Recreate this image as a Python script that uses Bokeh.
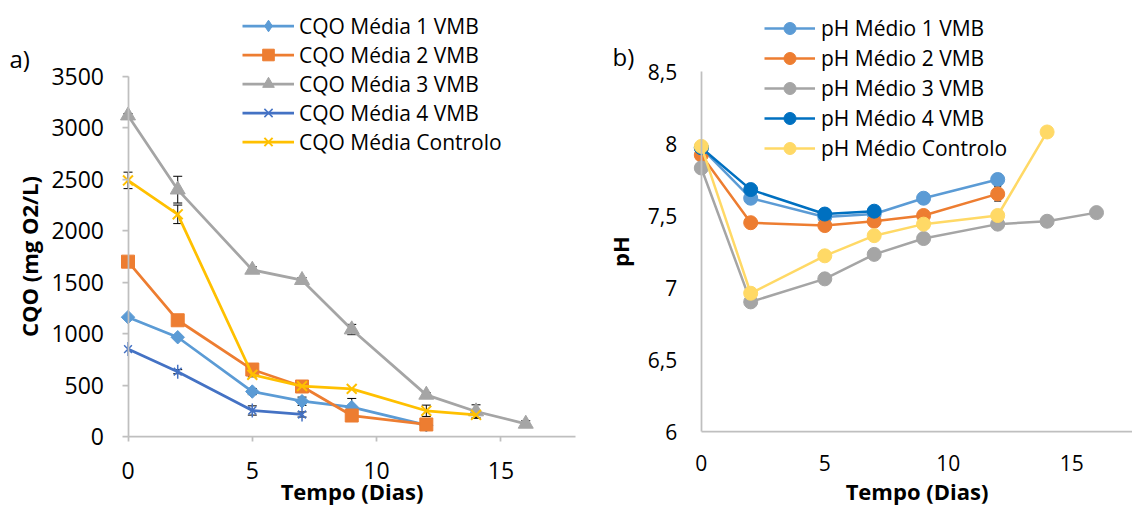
from math import pi
from bokeh.plotting import figure
from bokeh.models import (Range1d, FixedTicker, Legend, LegendItem, Whisker, TeeHead,
                          ColumnDataSource, Label, CustomJSTickFormatter)
from bokeh.layouts import row
from bokeh.embed import file_html
from bokeh.resources import INLINE

# ---------------- data ----------------
days = [0, 2, 5, 7, 9, 12, 14, 16]

cqo_names = ["CQO Média 1 VMB", "CQO Média 2 VMB", "CQO Média 3 VMB",
             "CQO Média 4 VMB", "CQO Média Controlo"]
cqo1 = [1160, 965, 437, 343, 285, 110]
cqo2 = [1700, 1130, 651, 486, 204, 117]
cqo3 = [3120, 2400, 1620, 1520, 1040, 405, 243, 123]
cqo4 = [850, 630, 253, 214]
cqo_c = [2490, 2160, 600, 490, 463, 250, 210]
cqo1_err = [0, 0, 30, 40, 85, 0]
cqo2_err = [0, 0, 0, 35, 0, 0]
cqo3_err = [20, 130, 30, 25, 50, 20, 65, 30]
cqo4_err = [0, 20, 45, 25]
cqo_c_err = [80, 90, 20, 20, 0, 55, 30]

ph_names = ["pH Médio 1 VMB", "pH Médio 2 VMB", "pH Médio 3 VMB",
            "pH Médio 4 VMB", "pH Médio Controlo"]
ph1 = [7.97, 7.62, 7.49, 7.51, 7.62, 7.75]
ph2 = [7.92, 7.45, 7.43, 7.46, 7.50, 7.65]
ph3 = [7.83, 6.90, 7.06, 7.23, 7.34, 7.44, 7.46, 7.52]
ph4 = [7.97, 7.68, 7.51, 7.53]
ph_c = [7.98, 6.96, 7.22, 7.36, 7.44, 7.50, 8.08]
ph1_err = [0, 0, 0, 0, 0, 0.04]
ph2_err = [0, 0, 0, 0, 0, 0.05]
ph3_err = [0, 0, 0, 0, 0, 0.02, 0, 0]
ph4_err = [0, 0, 0, 0]
ph_c_err = [0, 0, 0.02, 0, 0, 0, 0]

x_ticks = [0, 5, 10, 15]
cqo_ticks = [0, 500, 1000, 1500, 2000, 2500, 3000, 3500]
ph_ticks = [6, 6.5, 7, 7.5, 8, 8.5]

FONT = "Open Sans"
AXIS_COLOR = "#BFBFBF"
H = 506


def make_fig(width, xr, yr):
    p = figure(width=width, height=H, x_range=Range1d(*xr), y_range=Range1d(*yr),
               output_backend="svg", toolbar_location=None, title=None,
               min_border_left=0, min_border_right=0, min_border_top=0,
               min_border_bottom=0)
    p.outline_line_color = None
    p.grid.visible = False
    p.background_fill_color = "white"
    p.border_fill_color = "white"
    for ax in (p.xaxis[0], p.yaxis[0]):
        ax.axis_line_color = AXIS_COLOR
        ax.axis_line_width = 1.75
        ax.major_tick_line_color = AXIS_COLOR
        ax.major_tick_line_width = 1.75
        ax.major_tick_in = 0
        ax.minor_tick_in = 0
        ax.minor_tick_out = 0
        ax.major_label_text_font = FONT
        ax.major_label_text_color = "black"
        ax.axis_label_text_font = FONT
        ax.axis_label_text_font_style = "bold"
        ax.axis_label_text_font_size = "22px"
        ax.axis_label_text_color = "black"
    return p


def add_err(p, xs, ys, errs, size=9):
    bx = [x for x, e in zip(xs, errs) if e > 0]
    up = [y + e for y, e in zip(ys, errs) if e > 0]
    lo = [y - e for y, e in zip(ys, errs) if e > 0]
    if not bx:
        return
    src = ColumnDataSource(dict(base=bx, upper=up, lower=lo))
    w = Whisker(source=src, base="base", upper="upper", lower="lower",
                line_color="black", line_width=1,
                upper_head=TeeHead(size=size, line_color="black", line_width=1),
                lower_head=TeeHead(size=size, line_color="black", line_width=1))
    p.add_layout(w)


# ---------------- left panel: CQO ----------------
W1 = 580
# x: pixel = 127.5 + 24.86*day ; y: pixel = 436 - 0.102857*value
p1 = make_fig(W1, (-127.5 / 24.86, (W1 - 127.5) / 24.86),
              ((436 - H) / 0.102857, 436 / 0.102857))
xa = p1.xaxis[0]
xa.fixed_location = 0
xa.bounds = (0, 18)
xa.ticker = FixedTicker(ticks=x_ticks)
xa.major_tick_out = 5
xa.major_label_standoff = 20
xa.major_label_text_font_size = "23px"
xa.axis_label = "Tempo (Dias)"
xa.axis_label_standoff = -6
ya = p1.yaxis[0]
ya.fixed_location = 0
ya.bounds = (0, 3500)
ya.ticker = FixedTicker(ticks=cqo_ticks)
ya.major_tick_out = 6
ya.major_label_standoff = 18
ya.major_label_text_font_size = "23px"
ya.axis_label = "CQO (mg O2/L)"
ya.axis_label_standoff = 5

cqo_cols = ["#5B9BD5", "#ED7D31", "#A5A5A5", "#4472C4", "#FFC000"]
LW = 2.75
items = []
series = [(cqo1, cqo1_err), (cqo2, cqo2_err), (cqo3, cqo3_err), (cqo4, cqo4_err), (cqo_c, cqo_c_err)]
for i, (ys, errs) in enumerate(series):
    xs = days[:len(ys)]
    c = cqo_cols[i]
    ln = p1.line(xs, ys, line_color=c, line_width=LW)
    add_err(p1, xs, ys, errs)
    rs = [ln]
    if i == 0:
        # diamond swatch for the legend (legend markers are never rotated);
        # drawn tiny on the same points, hidden under the rotated squares
        rs.append(p1.scatter(xs, ys, marker="diamond", size=0.5,
                             fill_color=c, line_color=c))
        p1.scatter(xs, ys, marker="square", angle=pi / 4, size=9.5,
                   fill_color=c, line_color=c)
    elif i == 1:
        rs.append(p1.scatter(xs, ys, marker="square", size=13, fill_color=c, line_color=c))
    elif i == 2:
        rs.append(p1.scatter(xs, ys, marker="triangle", size=15, fill_color=c, line_color=c))
    elif i == 3:
        rs.append(p1.scatter(xs, ys, marker="x", size=11, line_color=c, line_width=1.5))
        rs.append(p1.scatter(xs, ys, marker="dash", angle=pi / 2, size=14,
                             line_color=c, line_width=1.5))
    else:
        rs.append(p1.scatter(xs, ys, marker="x", size=14, line_color=c, line_width=2))
    items.append(LegendItem(label=cqo_names[i], renderers=rs))

leg1 = Legend(items=items, location=(242, H - 11 - 5 * 29), orientation="vertical",
              glyph_width=52, glyph_height=29, label_height=29, spacing=0,
              padding=0, margin=0, label_standoff=5,
              label_text_font=FONT, label_text_font_size="21px",
              label_text_color="black", border_line_color=None,
              background_fill_alpha=0)
p1.add_layout(leg1)
p1.add_layout(Label(x=9, y=H - 58, x_units="screen", y_units="screen", text="a)",
                    text_font=FONT, text_font_size="24px", text_baseline="middle",
                    text_color="black"))

# ---------------- right panel: pH ----------------
W2 = 1132 - W1
# x: pixel(local) = 120.8 + 24.7*day ; y: pixel = 431 - 144*(pH-6)
p2 = make_fig(W2, (-120.8 / 24.7, (W2 - 120.8) / 24.7),
              (6 - (H - 431) / 144, 6 + 431 / 144))
xb = p2.xaxis[0]
xb.fixed_location = 6
xb.bounds = (0, 18)
xb.ticker = FixedTicker(ticks=x_ticks)
xb.major_tick_out = 0
xb.major_label_standoff = 23
xb.major_label_text_font_size = "21px"
xb.axis_label = "Tempo (Dias)"
xb.axis_label_standoff = 2
yb = p2.yaxis[0]
yb.fixed_location = 0
yb.bounds = (6, 8.5)
yb.ticker = FixedTicker(ticks=ph_ticks)
yb.major_tick_out = 0
yb.major_label_standoff = 24
yb.major_label_text_font_size = "21px"
yb.formatter = CustomJSTickFormatter(code="return tick.toString().replace('.', ',');")
yb.axis_label = "pH"
yb.axis_label_standoff = 10

ph_cols = ["#5B9BD5", "#ED7D31", "#A5A5A5", "#0070C0", "#FFD966"]
items2 = []
series2 = [(ph1, ph1_err), (ph2, ph2_err), (ph3, ph3_err), (ph4, ph4_err), (ph_c, ph_c_err)]
for i, (ys, errs) in enumerate(series2):
    xs = days[:len(ys)]
    c = ph_cols[i]
    ln = p2.line(xs, ys, line_color=c, line_width=2.5)
    add_err(p2, xs, ys, errs, size=7)
    sc = p2.scatter(xs, ys, marker="circle", size=14, fill_color=c, line_color=c)
    items2.append(LegendItem(label=ph_names[i], renderers=[ln, sc]))

leg2 = Legend(items=items2, location=(184, H - 13.3 - 5 * 30), orientation="vertical",
              glyph_width=51, glyph_height=30, label_height=30, spacing=0,
              padding=0, margin=0, label_standoff=6,
              label_text_font=FONT, label_text_font_size="21px",
              label_text_color="black", border_line_color=None,
              background_fill_alpha=0)
p2.add_layout(leg2)
p2.add_layout(Label(x=32, y=H - 56, x_units="screen", y_units="screen", text="b)",
                    text_font=FONT, text_font_size="24px", text_baseline="middle",
                    text_color="black"))

layout = row(p1, p2)
open("out.html", "w").write(file_html(layout, INLINE))
